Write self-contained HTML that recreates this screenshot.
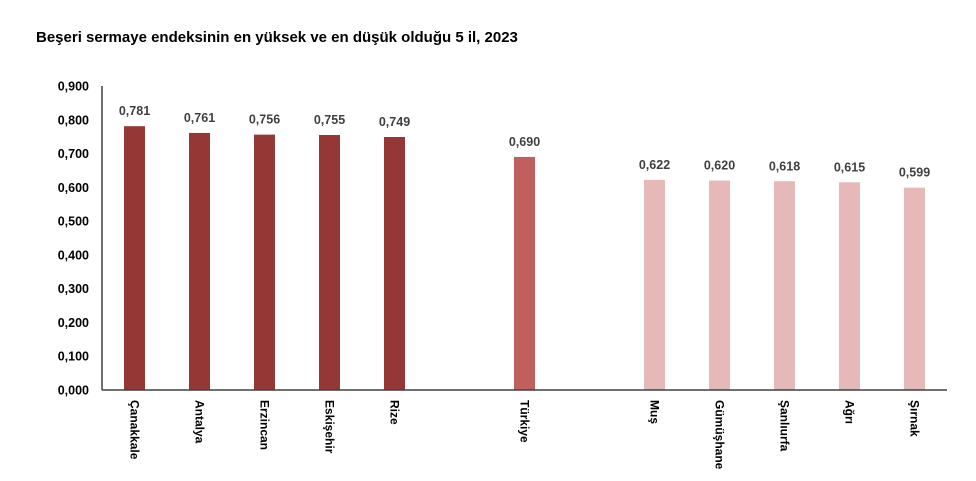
<!DOCTYPE html>
<html><head><meta charset="utf-8"><style>
body{margin:0;background:#fff;width:976px;height:481px;overflow:hidden;font-family:"Liberation Sans",Arial,sans-serif}
#title{position:absolute;left:36px;top:29px;font-size:15px;font-weight:bold;color:#000}
</style></head><body>
<div id="title">Beşeri sermaye endeksinin en yüksek ve en düşük olduğu 5 il, 2023</div>
<svg id="chart" width="976" height="481" style="position:absolute;left:0;top:0"></svg>
<script>
const categories=["Çanakkale","Antalya","Erzincan","Eskişehir","Rize","","Türkiye","","Muş","Gümüşhane","Şanlıurfa","Ağrı","Şırnak"];
const values=[0.781,0.761,0.756,0.755,0.749,null,0.690,null,0.622,0.620,0.618,0.615,0.599];
const groups=["high","high","high","high","high","","tr","","low","low","low","low","low"];
const yTicks=[0,0.1,0.2,0.3,0.4,0.5,0.6,0.7,0.8,0.9];
const colors={high:"#953735",tr:"#c0605e",low:"#e6b9b8"};
const svg=document.getElementById('chart');const NS="http://www.w3.org/2000/svg";
const x0=102,x1=947,y0=390,y1=86,yMax=0.9;
const band=(x1-x0)/categories.length;
const xC=i=>x0+band*(i+0.5);
const y=v=>y0-(v/yMax)*(y0-y1);
function mk(t,a){const e=document.createElementNS(NS,t);for(const k in a)e.setAttribute(k,a[k]);svg.appendChild(e);return e;}
yTicks.forEach(t=>{
 const e=mk('text',{x:89,y:y(t)+4.5,'text-anchor':'end','font-size':'12.5','font-weight':'bold',fill:'#000'});
 e.textContent=t.toFixed(3).replace('.',',');
 
 
});
values.forEach((v,i)=>{
 if(v===null)return;
 const cx=xC(i);
 const r=mk('rect',{x:cx-10.5,y:y(v),width:21,height:y0-y(v),fill:colors[groups[i]]});
 
 
 const l=mk('text',{x:cx,y:y(v)-11,'text-anchor':'middle','font-size':'12.5','font-weight':'bold',fill:'#404040'});
 l.textContent=v.toFixed(3).replace('.',',');
 
 
 const c=mk('text',{x:0,y:0,transform:`translate(${cx-4},400) rotate(90)`,'font-size':'12','font-weight':'bold',fill:'#000'});
 c.textContent=categories[i];
 
 
});
const ya=mk('line',{x1:x0,y1:y1,x2:x0,y2:y0,stroke:'#404040','stroke-width':1.5});


const xa=mk('line',{x1:x0,y1:y0,x2:x1,y2:y0,stroke:'#404040','stroke-width':1.5});


</script>
</body></html>
